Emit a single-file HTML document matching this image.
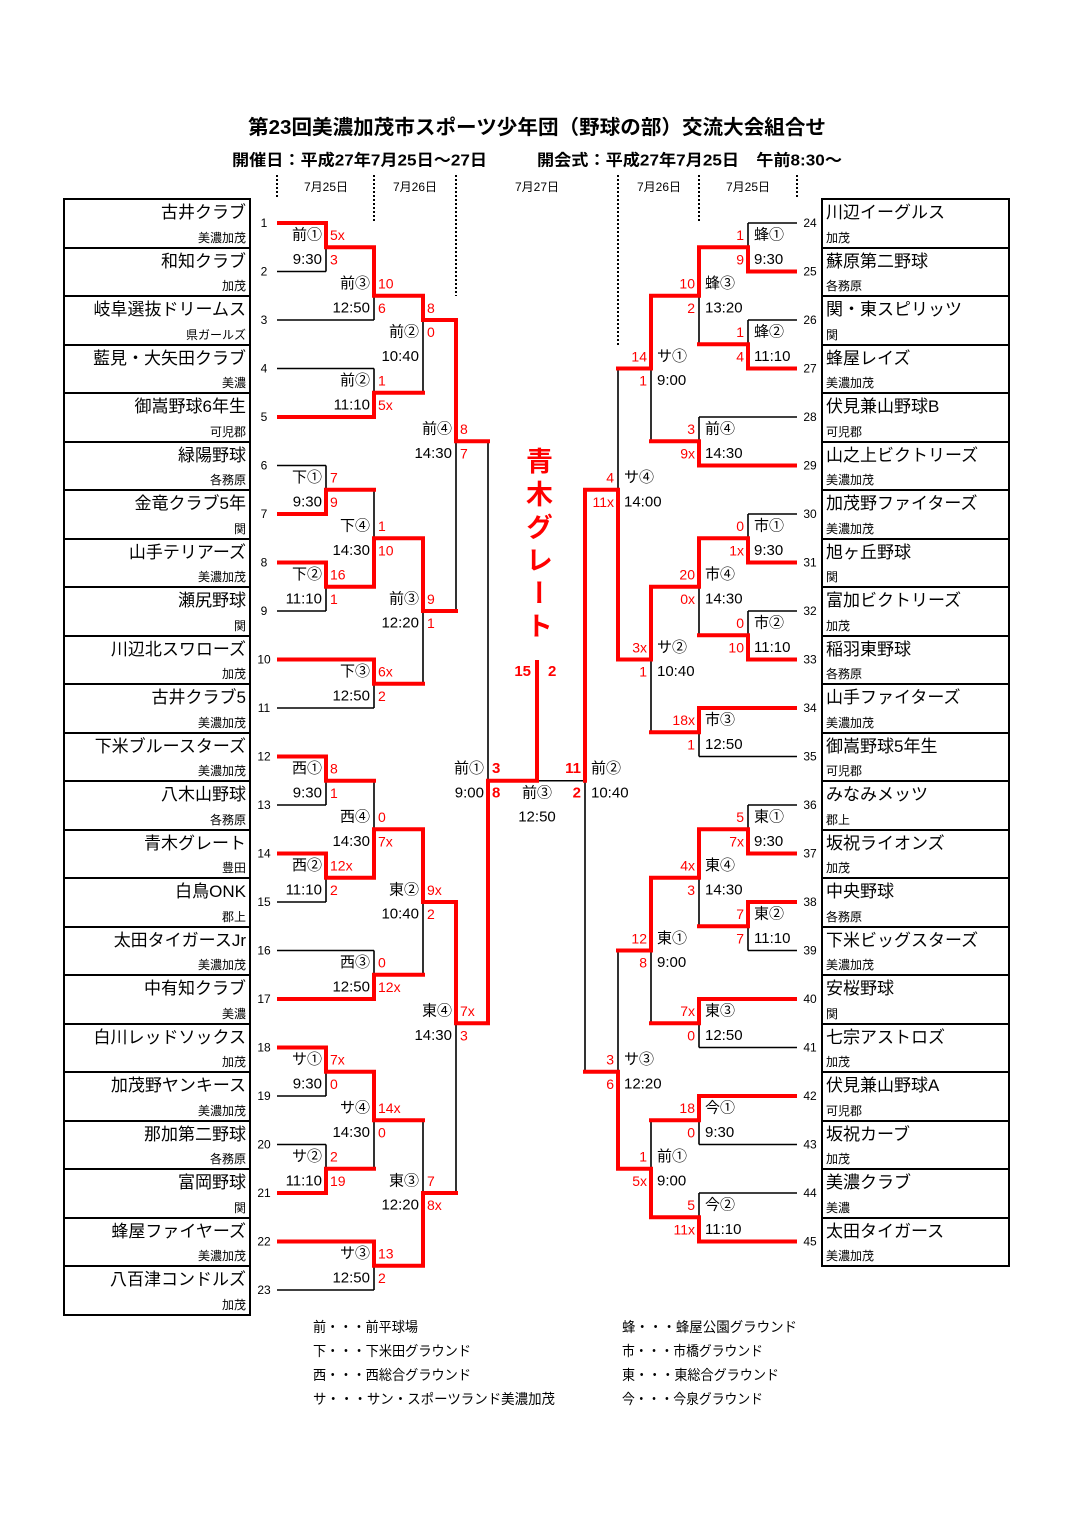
<!DOCTYPE html>
<html><head><meta charset="utf-8">
<style>
body{margin:0;background:#fff;}
#pg{position:relative;width:1075px;height:1519px;overflow:hidden;font-family:"Liberation Sans","Noto Sans CJK JP",sans-serif;}
.box{position:absolute;border:2px solid #000;box-sizing:border-box;display:flex;flex-direction:column;}
.box div.r{flex:1;border-top:2px solid #000;position:relative;}
.box div.r:first-child{border-top:none;}
.L .n{position:absolute;right:3px;top:3px;font-size:17px;line-height:20px;white-space:nowrap;}
.L .g{position:absolute;right:3px;bottom:2px;font-size:12px;line-height:14px;white-space:nowrap;}
.R .n{position:absolute;left:3px;top:3px;font-size:17px;line-height:20px;white-space:nowrap;}
.R .g{position:absolute;left:3px;bottom:2px;font-size:12px;line-height:14px;white-space:nowrap;}
svg{position:absolute;left:0;top:0;}
svg text{font-family:"Liberation Sans","Noto Sans CJK JP",sans-serif;dominant-baseline:central;}
.l{font-size:15px;fill:#000;}
.s{font-size:14px;fill:#f00;}
.b{font-weight:bold;font-size:15px;}
.sn{font-size:12px;fill:#000;text-anchor:middle;}
.e{text-anchor:end;}
.m{text-anchor:middle;}
#vt{position:absolute;left:521px;top:447px;writing-mode:vertical-rl;font-size:27px;font-weight:bold;color:#f00;letter-spacing:6px;line-height:32px;font-family:"Liberation Sans","Noto Sans CJK JP",sans-serif;}
</style></head><body><div id="pg">
<svg width="1075" height="1519" viewBox="0 0 1075 1519">
<text x="248" y="128" textLength="578" lengthAdjust="spacingAndGlyphs" style="font-size:20px;font-weight:bold">第23回美濃加茂市スポーツ少年団（野球の部）交流大会組合せ</text>
<text x="232" y="161" textLength="255" lengthAdjust="spacingAndGlyphs" style="font-size:16px;font-weight:bold">開催日：平成27年7月25日～27日</text>
<text x="537" y="161" textLength="305" lengthAdjust="spacingAndGlyphs" style="font-size:16px;font-weight:bold">開会式：平成27年7月25日　午前8:30～</text>
<g style="font-size:12px" class="m">
<text x="326" y="187">7月25日</text><text x="415" y="187">7月26日</text><text x="537" y="187">7月27日</text><text x="659" y="187">7月26日</text><text x="748" y="187">7月25日</text>
</g>
<g stroke="#000" stroke-width="2" stroke-dasharray="2,2" fill="none">
<path d="M277 175V199M374 175V222M456 175V296M618 175V345M699 175V222M797 175V199"/>
</g>
<path fill="none" stroke="#000" stroke-width="1.6" d="
M277 271.5H326M277 320H374M277 368.5H374M277 465.5H326M277 611H326M277 708H374M277 805H326M277 902H326M277 950.5H374M277 1096H326M277 1144.5H326M277 1290H374
M326 247.25V271.5M374 295.75V320M374 368.5V392.75M423 320V392.75M326 465.5V489.75M326 586.75V611M374 489.75V538.25M374 683.75V708M423 611V683.75M456 441.25V611
M326 780.75V805M326 877.75V902M374 780.75V829.25M374 950.5V974.75M423 902V974.75M326 1071.75V1096M326 1144.5V1168.75M374 1120.25V1168.75M374 1265.75V1290M423 1120.25V1193M456 1023.25V1193M488 441.25V780.75
M797 223H748M797 320H748M797 417H699M797 514H748M797 611H748M797 756.5H699M797 805H748M797 950.5H748M797 1047.5H699M797 1144.5H699M797 1193H699
M748 223V247.25M748 320V344.25M699 295.75V344.25M699 417V441.25M651 368.5V441.25M748 514V538.25M748 611V635.25M699 586.75V635.25M699 732.25V756.5M651 659.5V732.25M618 368.5V489.75
M748 805V829.25M748 926.25V950.5M699 877.75V926.25M699 1023.25V1047.5M651 950.5V1023.25M699 1120.25V1144.5M699 1193V1217.25M651 1120.25V1168.75M618 950.5V1071.75M585 780.75V1071.75M585 780.75H537"/>
<g fill="none" stroke="#f00" stroke-width="4" stroke-linejoin="miter" stroke-linecap="square">
<path d="M279 223H326V247.25H374V295.75H423V320H456V441.25H488"/>
<path d="M279 417H374V392.75H423"/>
<path d="M279 514H326V489.75H374"/>
<path d="M279 562.5H326V586.75H374V538.25H423V611H456"/>
<path d="M279 659.5H374V683.75H423"/>
<path d="M279 756.5H326V780.75H374"/>
<path d="M279 853.5H326V877.75H374V829.25H423V902H456V1023.25H488V780.75H537V662"/>
<path d="M279 999H374V974.75H423"/>
<path d="M279 1047.5H326V1071.75H374V1120.25H423"/>
<path d="M279 1193H326V1168.75H374"/>
<path d="M279 1241.5H374V1265.75H423V1193H456"/>
<path d="M795 271.5H748V247.25H699V295.75H651V368.5H618"/>
<path d="M795 368.5H748V344.25H699"/>
<path d="M795 465.5H699V441.25H651"/>
<path d="M795 562.5H748V538.25H699V586.75H651V659.5H618V489.75H585V780.75"/>
<path d="M795 659.5H748V635.25H699"/>
<path d="M795 708H699V732.25H651"/>
<path d="M795 853.5H748V829.25H699V877.75H651V950.5H618"/>
<path d="M795 902H748V926.25H699"/>
<path d="M795 999H699V1023.25H651"/>
<path d="M795 1096H699V1120.25H651"/>
<path d="M795 1241.5H699V1217.25H651V1168.75H618V1071.75H585"/>
</g>
<g class="sn">
<text x="264" y="223">1</text><text x="264" y="271.5">2</text><text x="264" y="320">3</text><text x="264" y="368.5">4</text><text x="264" y="417">5</text><text x="264" y="465.5">6</text><text x="264" y="514">7</text><text x="264" y="562.5">8</text><text x="264" y="611">9</text><text x="264" y="659.5">10</text><text x="264" y="708">11</text><text x="264" y="756.5">12</text><text x="264" y="805">13</text><text x="264" y="853.5">14</text><text x="264" y="902">15</text><text x="264" y="950.5">16</text><text x="264" y="999">17</text><text x="264" y="1047.5">18</text><text x="264" y="1096">19</text><text x="264" y="1144.5">20</text><text x="264" y="1193">21</text><text x="264" y="1241.5">22</text><text x="264" y="1290">23</text>
<text x="810" y="223">24</text><text x="810" y="271.5">25</text><text x="810" y="320">26</text><text x="810" y="368.5">27</text><text x="810" y="417">28</text><text x="810" y="465.5">29</text><text x="810" y="514">30</text><text x="810" y="562.5">31</text><text x="810" y="611">32</text><text x="810" y="659.5">33</text><text x="810" y="708">34</text><text x="810" y="756.5">35</text><text x="810" y="805">36</text><text x="810" y="853.5">37</text><text x="810" y="902">38</text><text x="810" y="950.5">39</text><text x="810" y="999">40</text><text x="810" y="1047.5">41</text><text x="810" y="1096">42</text><text x="810" y="1144.5">43</text><text x="810" y="1193">44</text><text x="810" y="1241.5">45</text>
</g>
<g class="l e">
<text x="322" y="235.1">前①</text><text x="322" y="259.4">9:30</text>
<text x="370" y="283.6">前③</text><text x="370" y="307.9">12:50</text>
<text x="370" y="380.6">前②</text><text x="370" y="404.9">11:10</text>
<text x="419" y="332.1">前②</text><text x="419" y="356.4">10:40</text>
<text x="452" y="429.1">前④</text><text x="452" y="453.4">14:30</text>
<text x="322" y="477.6">下①</text><text x="322" y="501.9">9:30</text>
<text x="370" y="526.1">下④</text><text x="370" y="550.4">14:30</text>
<text x="322" y="574.6">下②</text><text x="322" y="598.9">11:10</text>
<text x="419" y="598.9">前③</text><text x="419" y="623.1">12:20</text>
<text x="370" y="671.6">下③</text><text x="370" y="695.9">12:50</text>
<text x="322" y="768.6">西①</text><text x="322" y="792.9">9:30</text>
<text x="484" y="768.6">前①</text><text x="484" y="792.9">9:00</text>
<text x="370" y="817.1">西④</text><text x="370" y="841.4">14:30</text>
<text x="322" y="865.6">西②</text><text x="322" y="889.9">11:10</text>
<text x="419" y="889.9">東②</text><text x="419" y="914.1">10:40</text>
<text x="370" y="962.6">西③</text><text x="370" y="986.9">12:50</text>
<text x="452" y="1011.1">東④</text><text x="452" y="1035.4">14:30</text>
<text x="322" y="1059.6">サ①</text><text x="322" y="1083.9">9:30</text>
<text x="370" y="1108.1">サ④</text><text x="370" y="1132.4">14:30</text>
<text x="322" y="1156.6">サ②</text><text x="322" y="1180.9">11:10</text>
<text x="419" y="1180.9">東③</text><text x="419" y="1205.1">12:20</text>
<text x="370" y="1253.6">サ③</text><text x="370" y="1277.9">12:50</text>
</g>
<g class="s">
<text x="330" y="235.1">5x</text><text x="330" y="259.4">3</text>
<text x="378" y="283.6">10</text><text x="378" y="307.9">6</text>
<text x="378" y="380.6">1</text><text x="378" y="404.9">5x</text>
<text x="427" y="307.9">8</text><text x="427" y="332.1">0</text>
<text x="460" y="429.1">8</text><text x="460" y="453.4">7</text>
<text x="330" y="477.6">7</text><text x="330" y="501.9">9</text>
<text x="378" y="526.1">1</text><text x="378" y="550.4">10</text>
<text x="330" y="574.6">16</text><text x="330" y="598.9">1</text>
<text x="427" y="598.9">9</text><text x="427" y="623.1">1</text>
<text x="378" y="671.6">6x</text><text x="378" y="695.9">2</text>
<text x="330" y="768.6">8</text><text x="330" y="792.9">1</text>
<text x="378" y="817.1">0</text><text x="378" y="841.4">7x</text>
<text x="330" y="865.6">12x</text><text x="330" y="889.9">2</text>
<text x="427" y="889.9">9x</text><text x="427" y="914.1">2</text>
<text x="378" y="962.6">0</text><text x="378" y="986.9">12x</text>
<text x="460" y="1011.1">7x</text><text x="460" y="1035.4">3</text>
<text x="330" y="1059.6">7x</text><text x="330" y="1083.9">0</text>
<text x="378" y="1108.1">14x</text><text x="378" y="1132.4">0</text>
<text x="330" y="1156.6">2</text><text x="330" y="1180.9">19</text>
<text x="427" y="1180.9">7</text><text x="427" y="1205.1">8x</text>
<text x="378" y="1253.6">13</text><text x="378" y="1277.9">2</text>
<text x="492" y="768.6" class="b">3</text><text x="492" y="792.9" class="b">8</text>
<text x="531" y="671.6" class="b e">15</text><text x="548" y="671.6" class="b">2</text>
<text x="581" y="768.6" class="b e">11</text><text x="581" y="792.9" class="b e">2</text>
</g>
<g class="l m"><text x="537" y="792.9">前③</text><text x="537" y="817.1">12:50</text></g>
<g class="l">
<text x="754" y="235.1">蜂①</text><text x="754" y="259.4">9:30</text>
<text x="705" y="283.6">蜂③</text><text x="705" y="307.9">13:20</text>
<text x="754" y="332.1">蜂②</text><text x="754" y="356.4">11:10</text>
<text x="657" y="356.4">サ①</text><text x="657" y="380.6">9:00</text>
<text x="705" y="429.1">前④</text><text x="705" y="453.4">14:30</text>
<text x="624" y="477.6">サ④</text><text x="624" y="501.9">14:00</text>
<text x="754" y="526.1">市①</text><text x="754" y="550.4">9:30</text>
<text x="705" y="574.6">市④</text><text x="705" y="598.9">14:30</text>
<text x="754" y="623.1">市②</text><text x="754" y="647.4">11:10</text>
<text x="657" y="647.4">サ②</text><text x="657" y="671.6">10:40</text>
<text x="705" y="720.1">市③</text><text x="705" y="744.4">12:50</text>
<text x="591" y="768.6">前②</text><text x="591" y="792.9">10:40</text>
<text x="754" y="817.1">東①</text><text x="754" y="841.4">9:30</text>
<text x="705" y="865.6">東④</text><text x="705" y="889.9">14:30</text>
<text x="754" y="914.1">東②</text><text x="754" y="938.4">11:10</text>
<text x="657" y="938.4">東①</text><text x="657" y="962.6">9:00</text>
<text x="705" y="1011.1">東③</text><text x="705" y="1035.4">12:50</text>
<text x="624" y="1059.6">サ③</text><text x="624" y="1083.9">12:20</text>
<text x="705" y="1108.1">今①</text><text x="705" y="1132.4">9:30</text>
<text x="657" y="1156.6">前①</text><text x="657" y="1180.9">9:00</text>
<text x="705" y="1205.1">今②</text><text x="705" y="1229.4">11:10</text>
</g>
<g class="s e">
<text x="744" y="235.1">1</text><text x="744" y="259.4">9</text>
<text x="695" y="283.6">10</text><text x="695" y="307.9">2</text>
<text x="744" y="332.1">1</text><text x="744" y="356.4">4</text>
<text x="647" y="356.4">14</text><text x="647" y="380.6">1</text>
<text x="695" y="429.1">3</text><text x="695" y="453.4">9x</text>
<text x="614" y="477.6">4</text><text x="614" y="501.9">11x</text>
<text x="744" y="526.1">0</text><text x="744" y="550.4">1x</text>
<text x="695" y="574.6">20</text><text x="695" y="598.9">0x</text>
<text x="744" y="623.1">0</text><text x="744" y="647.4">10</text>
<text x="647" y="647.4">3x</text><text x="647" y="671.6">1</text>
<text x="695" y="720.1">18x</text><text x="695" y="744.4">1</text>
<text x="744" y="817.1">5</text><text x="744" y="841.4">7x</text>
<text x="695" y="865.6">4x</text><text x="695" y="889.9">3</text>
<text x="744" y="914.1">7</text><text x="744" y="938.4">7</text>
<text x="647" y="938.4">12</text><text x="647" y="962.6">8</text>
<text x="695" y="1011.1">7x</text><text x="695" y="1035.4">0</text>
<text x="614" y="1059.6">3</text><text x="614" y="1083.9">6</text>
<text x="695" y="1108.1">18</text><text x="695" y="1132.4">0</text>
<text x="647" y="1156.6">1</text><text x="647" y="1180.9">5x</text>
<text x="695" y="1205.1">5</text><text x="695" y="1229.4">11x</text>
</g>
<g style="font-size:14px">
<text x="313" y="1327" textLength="105" lengthAdjust="spacingAndGlyphs">前・・・前平球場</text>
<text x="313" y="1351" textLength="158" lengthAdjust="spacingAndGlyphs">下・・・下米田グラウンド</text>
<text x="313" y="1375" textLength="158" lengthAdjust="spacingAndGlyphs">西・・・西総合グラウンド</text>
<text x="313" y="1399" textLength="242" lengthAdjust="spacingAndGlyphs">サ・・・サン・スポーツランド美濃加茂</text>
<text x="622" y="1327" textLength="175" lengthAdjust="spacingAndGlyphs">蜂・・・蜂屋公園グラウンド</text>
<text x="622" y="1351" textLength="141" lengthAdjust="spacingAndGlyphs">市・・・市橋グラウンド</text>
<text x="622" y="1375" textLength="157" lengthAdjust="spacingAndGlyphs">東・・・東総合グラウンド</text>
<text x="622" y="1399" textLength="141" lengthAdjust="spacingAndGlyphs">今・・・今泉グラウンド</text>
</g>
</svg>
<div id="vt">青木グレート</div>
<div class="box L" style="left:63px;top:198px;width:188px;height:1118px">
<div class="r"><span class="n">古井クラブ</span><span class="g">美濃加茂</span></div>
<div class="r"><span class="n">和知クラブ</span><span class="g">加茂</span></div>
<div class="r"><span class="n">岐阜選抜ドリームス</span><span class="g">県ガールズ</span></div>
<div class="r"><span class="n">藍見・大矢田クラブ</span><span class="g">美濃</span></div>
<div class="r"><span class="n">御嵩野球6年生</span><span class="g">可児郡</span></div>
<div class="r"><span class="n">緑陽野球</span><span class="g">各務原</span></div>
<div class="r"><span class="n">金竜クラブ5年</span><span class="g">関</span></div>
<div class="r"><span class="n">山手テリアーズ</span><span class="g">美濃加茂</span></div>
<div class="r"><span class="n">瀬尻野球</span><span class="g">関</span></div>
<div class="r"><span class="n">川辺北スワローズ</span><span class="g">加茂</span></div>
<div class="r"><span class="n">古井クラブ5</span><span class="g">美濃加茂</span></div>
<div class="r"><span class="n">下米ブルースターズ</span><span class="g">美濃加茂</span></div>
<div class="r"><span class="n">八木山野球</span><span class="g">各務原</span></div>
<div class="r"><span class="n">青木グレート</span><span class="g">豊田</span></div>
<div class="r"><span class="n">白鳥ONK</span><span class="g">郡上</span></div>
<div class="r"><span class="n">太田タイガースJr</span><span class="g">美濃加茂</span></div>
<div class="r"><span class="n">中有知クラブ</span><span class="g">美濃</span></div>
<div class="r"><span class="n">白川レッドソックス</span><span class="g">加茂</span></div>
<div class="r"><span class="n">加茂野ヤンキース</span><span class="g">美濃加茂</span></div>
<div class="r"><span class="n">那加第二野球</span><span class="g">各務原</span></div>
<div class="r"><span class="n">富岡野球</span><span class="g">関</span></div>
<div class="r"><span class="n">蜂屋ファイヤーズ</span><span class="g">美濃加茂</span></div>
<div class="r"><span class="n">八百津コンドルズ</span><span class="g">加茂</span></div>
</div>
<div class="box R" style="left:821px;top:198px;width:189px;height:1069px">
<div class="r"><span class="n">川辺イーグルス</span><span class="g">加茂</span></div>
<div class="r"><span class="n">蘇原第二野球</span><span class="g">各務原</span></div>
<div class="r"><span class="n">関・東スピリッツ</span><span class="g">関</span></div>
<div class="r"><span class="n">蜂屋レイズ</span><span class="g">美濃加茂</span></div>
<div class="r"><span class="n">伏見兼山野球B</span><span class="g">可児郡</span></div>
<div class="r"><span class="n">山之上ビクトリーズ</span><span class="g">美濃加茂</span></div>
<div class="r"><span class="n">加茂野ファイターズ</span><span class="g">美濃加茂</span></div>
<div class="r"><span class="n">旭ヶ丘野球</span><span class="g">関</span></div>
<div class="r"><span class="n">富加ビクトリーズ</span><span class="g">加茂</span></div>
<div class="r"><span class="n">稲羽東野球</span><span class="g">各務原</span></div>
<div class="r"><span class="n">山手ファイターズ</span><span class="g">美濃加茂</span></div>
<div class="r"><span class="n">御嵩野球5年生</span><span class="g">可児郡</span></div>
<div class="r"><span class="n">みなみメッツ</span><span class="g">郡上</span></div>
<div class="r"><span class="n">坂祝ライオンズ</span><span class="g">加茂</span></div>
<div class="r"><span class="n">中央野球</span><span class="g">各務原</span></div>
<div class="r"><span class="n">下米ビッグスターズ</span><span class="g">美濃加茂</span></div>
<div class="r"><span class="n">安桜野球</span><span class="g">関</span></div>
<div class="r"><span class="n">七宗アストロズ</span><span class="g">加茂</span></div>
<div class="r"><span class="n">伏見兼山野球A</span><span class="g">可児郡</span></div>
<div class="r"><span class="n">坂祝カーブ</span><span class="g">加茂</span></div>
<div class="r"><span class="n">美濃クラブ</span><span class="g">美濃</span></div>
<div class="r"><span class="n">太田タイガース</span><span class="g">美濃加茂</span></div>
</div>
</div></body></html>
